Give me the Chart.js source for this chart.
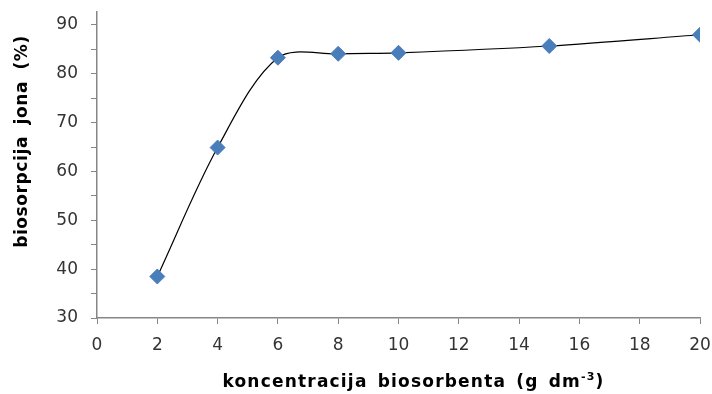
<!DOCTYPE html>
<html>
<head>
<meta charset="utf-8">
<script src="https://cdn.jsdelivr.net/npm/chart.js@4.4.1/dist/chart.umd.min.js"></script>
<style>
  html, body { margin: 0; padding: 0; background: #fff; }
  #wrap { width: 712px; height: 394px; }
</style>
</head>
<body>
<div id="wrap"><canvas id="chart"></canvas></div>
<script>
// podaci očitani sa grafika
const concentrations = [2, 4, 6, 8, 10, 15, 20];
const sorption = [38.5, 64.9, 83.3, 84.1, 84.3, 85.7, 88.0];
const yTicks = [30, 35, 40, 45, 50, 55, 60, 65, 70, 75, 80, 85, 90];

const xTitle = "koncentracija biosorbenta (g dm";
const xTitleSup = "-3";
const yTitle = "biosorpcija jona (%)";

const axisGray = "#868686";

// crtanje naslova osa (pozicija kao u originalu)
const axisTitles = {
  id: "axisTitles",
  afterDraw(chart) {
    const ctx = chart.ctx;
    ctx.save();
    ctx.fillStyle = "#000";
    ctx.textBaseline = "alphabetic";

    // x naslov
    const bold = "bold 17px 'DejaVu Sans'";
    const supFont = "bold 11px 'DejaVu Sans'";
    ctx.letterSpacing = "1.2px";
    ctx.wordSpacing = "3px";
    ctx.font = bold;
    const w1 = ctx.measureText(xTitle).width;
    ctx.font = supFont;
    const w2 = ctx.measureText(xTitleSup).width;
    ctx.font = bold;
    const w3 = ctx.measureText(")").width;
    let x = 413.5 - (w1 + w2 + w3) / 2;
    ctx.textAlign = "left";
    ctx.fillText(xTitle, x, 387);
    x += w1;
    ctx.font = supFont;
    ctx.fillText(xTitleSup, x, 380);
    x += w2;
    ctx.font = bold;
    ctx.fillText(")", x, 387);

    // y naslov
    ctx.letterSpacing = "0.6px";
    ctx.wordSpacing = "5px";
    ctx.translate(27, 141.5);
    ctx.rotate(-Math.PI / 2);
    ctx.textAlign = "center";
    ctx.font = bold;
    ctx.fillText(yTitle, 0, 0);
    ctx.restore();
  }
};

// bez automatskog dodavanja prostora za oznake na krajevima osa
function noEdgePadding(scale) {
  scale.paddingTop = 0;
  scale.paddingBottom = 0;
  scale.paddingLeft = 0;
  scale.paddingRight = 0;
}

const ctx = document.getElementById("chart").getContext("2d");
new Chart(ctx, {
  type: "line",
  data: {
    datasets: [{
      data: concentrations.map((c, i) => ({ x: c, y: sorption[i] })),
      borderColor: "#000",
      borderWidth: 1.2,
      tension: 0.32,
      pointStyle: "rectRot",
      pointRadius: 7.5,
      pointBackgroundColor: "#4a7ebb",
      pointBorderColor: "#4a7ebb",
      pointBorderWidth: 1,
      fill: false
    }]
  },
  options: {
    responsive: true,
    maintainAspectRatio: false,
    animation: false,
    layout: { padding: { top: 12, right: 12, left: 0, bottom: 0 } },
    plugins: {
      legend: { display: false },
      tooltip: { enabled: false }
    },
    scales: {
      x: {
        type: "linear",
        min: 0,
        max: 20,
        afterFit: (scale) => { scale.height = 76; noEdgePadding(scale); },
        border: { color: axisGray, width: 1.5 },
        grid: { drawOnChartArea: false, drawTicks: true, tickLength: 6, color: axisGray },
        ticks: {
          stepSize: 2,
          padding: 11,
          color: "#333",
          font: { family: "'DejaVu Sans'", size: 17 }
        }
      },
      y: {
        min: 30,
        max: 92.66,
        afterFit: (scale) => { scale.width = 97; noEdgePadding(scale); },
        afterBuildTicks: (scale) => { scale.ticks = yTicks.map(v => ({ value: v })); },
        border: { color: axisGray, width: 1.5 },
        grid: { drawOnChartArea: false, drawTicks: true, tickLength: 6, color: axisGray },
        ticks: {
          padding: 13,
          color: "#333",
          font: { family: "'DejaVu Sans'", size: 17 },
          callback: (v) => (v % 10 === 0 ? v : "")
        }
      }
    }
  },
  plugins: [axisTitles]
});
</script>
</body>
</html>
